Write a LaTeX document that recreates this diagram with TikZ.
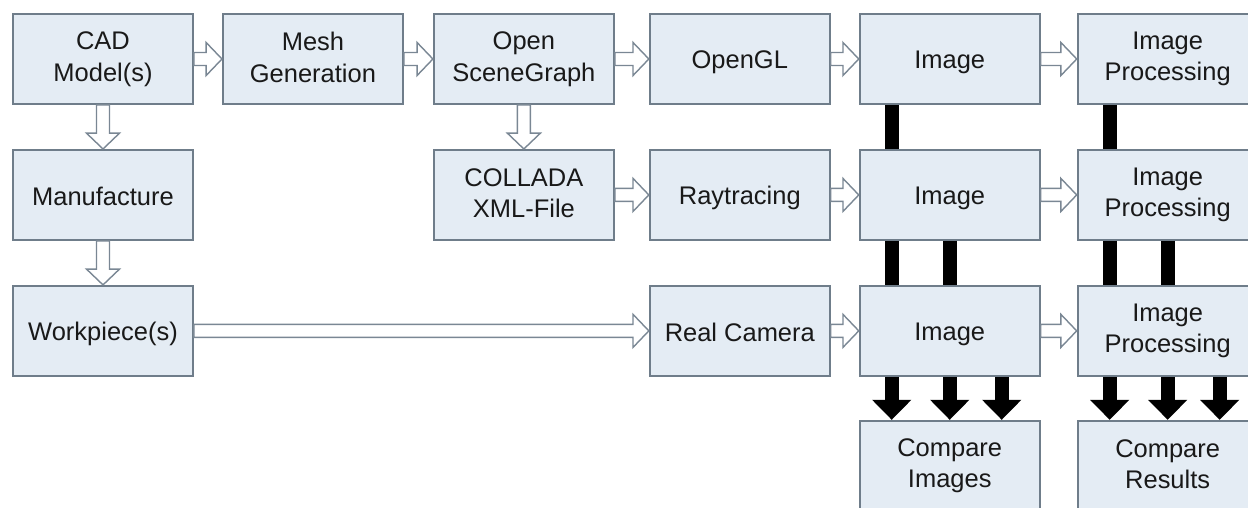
\documentclass[tikz,border=0pt]{standalone}
\usepackage{fontspec}
\setmainfont{Liberation Sans}
\usepackage{tikz}
\usetikzlibrary{arrows.meta,positioning,calc}

\definecolor{boxfill}{HTML}{E4ECF4}
\definecolor{boxline}{HTML}{6F7D8A}
\definecolor{linegray}{HTML}{7A8794}
\newcommand{\boxstrut}{\rule[-2pt]{0pt}{16pt}}

\tikzset{
  block/.style={shape=rectangle, draw=boxline, fill=boxfill, line width=1.1pt,
    minimum width=3.6cm, minimum height=1.8cm, inner sep=2pt, align=center,
    font=\fontsize{14.5}{18}\selectfont, text=black!90,
    execute at begin node=\boxstrut, execute at end node=\boxstrut},
  hollow/.style={draw=linegray, fill=white, line width=0.8pt,
    to path={let \p1=(\tikztostart), \p2=(\tikztotarget),
      \n1={atan2(\y2-\y1,\x2-\x1)}, \n2={veclen(\x2-\x1,\y2-\y1)-9}
      in (\p1) ++(\n1+90:3.7pt) -- ++(\n1:\n2) -- ++(\n1+90:5.7pt) -- (\p2)
      -- ($(\p2)+(\n1+180:9pt)+(\n1-90:9.4pt)$) -- ++(\n1+90:5.7pt)
      -- ++(\n1+180:\n2) -- cycle}},
  bar/.style={line width=0.28cm, black},
  bararrow/.style={bar, -{Triangle[length=0.4cm, width=0.76cm]}}
}

\begin{document}
\begin{tikzpicture}
      \useasboundingbox (0,0) rectangle (24.96,-10.16);

      % top row
      \node[block] (cad) at (2.06,-1.18) {CAD\\Model(s)};
      \node[block] (mesh) [right = 0.56cm of cad] {Mesh\\Generation};
      \node[block] (osg) [right = 0.58cm of mesh] {Open\\SceneGraph};
      \node[block] (ogl) [right = 0.68cm of osg] {OpenGL};
      \node[block] (imgA) [right = 0.56cm of ogl] {Image};
      \node[block] (procA) [right = 0.72cm of imgA] {Image\\Processing};

      % middle row
      \node[block] (manu) [below = 0.88cm of cad] {Manufacture};
      \node[block] (collada) [below = 0.88cm of osg] {COLLADA\\XML-File};
      \node[block] (ray) [below = 0.88cm of ogl] {Raytracing};
      \node[block] (imgB) [below = 0.88cm of imgA] {Image};
      \node[block] (procB) [below = 0.88cm of procA] {Image\\Processing};

      % bottom rows
      \node[block] (work) [below = 0.88cm of manu] {Workpiece(s)};
      \node[block] (cam) [below = 0.88cm of ray] {Real Camera};
      \node[block] (imgC) [below = 0.88cm of imgB] {Image};
      \node[block] (procC) [below = 0.88cm of procB] {Image\\Processing};
      \node[block] (cmpimg) [below = 0.86cm of imgC] {Compare\\Images};
      \node[block] (cmpres) [below = 0.86cm of procC] {Compare\\Results};

      \draw[hollow] (cad.east) to (mesh.west);
      \draw[hollow] (mesh.east) to (osg.west);
      \draw[hollow] (osg.east) to (ogl.west);
      \draw[hollow] (ogl.east) to (imgA.west);
      \draw[hollow] (imgA.east) to (procA.west);
      \draw[hollow] (cad.south) to (manu.north);
      \draw[hollow] (manu.south) to (work.north);
      \draw[hollow] (osg.south) to (collada.north);
      \draw[hollow] (collada.east) to (ray.west);
      \draw[hollow] (ray.east) to (imgB.west);
      \draw[hollow] (imgB.east) to (procB.west);
      \draw[hollow] (work.east) to (cam.west);
      \draw[hollow] (cam.east) to (imgC.west);
      \draw[hollow] (imgC.east) to (procC.west);

      \draw[bar] ([xshift=-1.16cm]imgA.south) -- ([xshift=-1.16cm]imgB.north);
      \draw[bar] ([xshift=-1.16cm]procA.south) -- ([xshift=-1.16cm]procB.north);
      \foreach \dx in {-1.16,0} {
        \draw[bar] ([xshift=\dx cm]imgB.south) -- ([xshift=\dx cm]imgC.north);
        \draw[bar] ([xshift=\dx cm]procB.south) -- ([xshift=\dx cm]procC.north);
      }
      \foreach \dx in {-1.16,0,1.04} {
        \draw[bararrow] ([xshift=\dx cm]imgC.south) -- ([xshift=\dx cm]cmpimg.north);
        \draw[bararrow] ([xshift=\dx cm]procC.south) -- ([xshift=\dx cm]cmpres.north);
      }
  \end{tikzpicture}
\end{document}
